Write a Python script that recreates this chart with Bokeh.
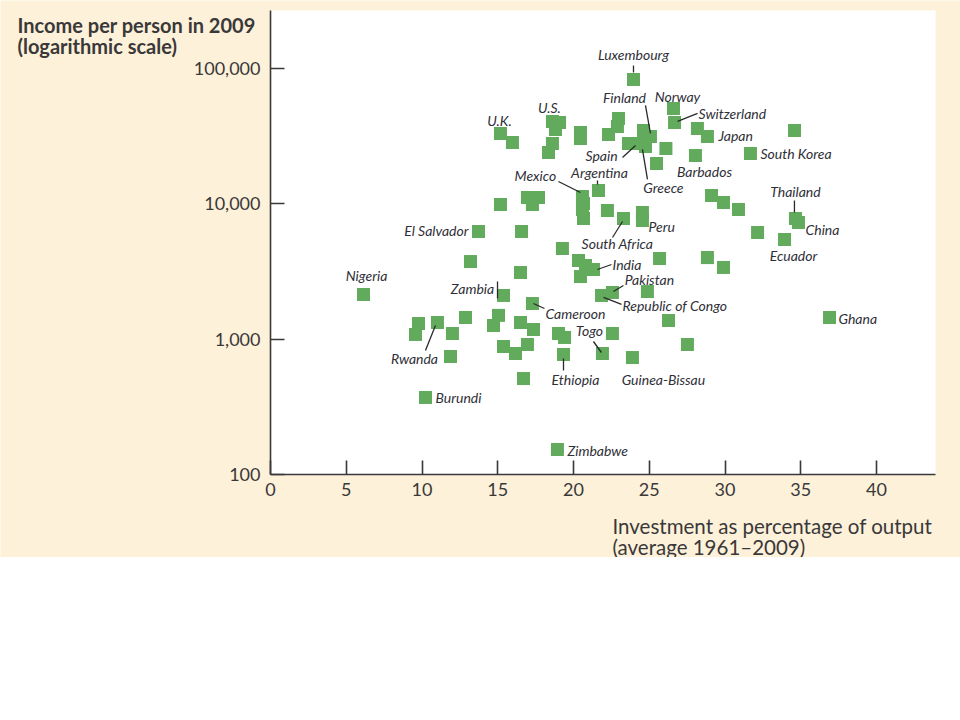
import math
from bokeh.plotting import figure
from bokeh.models import Range1d, FixedTicker, NumeralTickFormatter, Label, BoxAnnotation
from bokeh.embed import file_html
from bokeh.resources import INLINE

# ---------------- data ----------------
names = [
    "Luxembourg", "Norway", "Switzerland", "", "Japan", "", "", "Barbados", "South Korea", "",
    "", "", "", "Thailand", "China", "", "Ecuador", "", "", "Ghana",
    "", "", "", "", "Guinea-Bissau", "", "Togo", "Ethiopia", "", "",
    "Zimbabwe", "", "", "", "", "", "", "", "", "",
    "", "", "Rwanda", "", "", "Burundi", "Nigeria", "Zambia", "Cameroon", "",
    "", "", "", "", "India", "", "Pakistan", "Republic of Congo", "El Salvador", "",
    "", "", "", "", "Mexico", "", "", "Argentina", "", "",
    "South Africa", "", "Peru", "U.K.", "", "U.S.", "", "", "", "",
    "", "", "", "", "", "Finland", "", "Spain", "", "Greece",
]
investment = [
    23.96, 26.60, 26.67, 28.18, 28.84, 26.10, 25.48, 28.05, 31.68, 34.59,
    29.11, 29.90, 30.89, 34.65, 34.85, 32.15, 33.93, 28.84, 29.90, 36.90,
    25.68, 24.88, 26.27, 27.52, 23.89, 22.57, 21.91, 19.34, 19.01, 19.41,
    18.94, 16.70, 15.38, 16.17, 16.96, 17.36, 16.50, 15.05, 14.72, 12.87,
    12.01, 11.88, 11.02, 9.77, 9.57, 10.23, 6.14, 15.38, 17.29, 13.20,
    16.50, 19.27, 20.33, 20.79, 21.32, 20.46, 22.57, 21.85, 13.73, 16.57,
    15.18, 16.96, 17.69, 17.29, 20.59, 20.66, 20.59, 21.65, 22.24, 20.66,
    23.30, 24.55, 24.55, 15.18, 15.97, 18.61, 19.08, 18.81, 18.61, 18.35,
    20.46, 20.46, 22.97, 22.90, 22.31, 25.08, 24.62, 23.63, 24.29, 24.75,
]
income = [
    83000, 50700, 40000, 36100, 31500, 25660, 19900, 22800, 23590, 34900,
    11540, 10240, 9100, 7800, 7290, 6150, 5460, 4010, 3390, 1447,
    3950, 2250, 1375, 914, 732, 1102, 784, 771, 1102, 1030,
    153, 512, 883, 784, 914, 1180, 1329, 1500, 1262, 1447,
    1102, 745, 1329, 1306, 1084, 371, 2140, 2105, 1835, 3750,
    3110, 4680, 3815, 3505, 3275, 2905, 2215, 2105, 6250, 6250,
    9900, 11150, 11150, 9900, 11350, 10070, 9100, 12560, 8940, 7800,
    7800, 8640, 7540, 33150, 28400, 40600, 40000, 35500, 27940, 23990,
    33700, 30450, 42800, 37400, 32600, 31500, 34900, 27940, 27940, 26570,
]
x_ticks = [0, 5, 10, 15, 20, 25, 30, 35, 40]
y_ticks = [100, 1000, 10000, 100000]
y_title = ["Income per person in 2009", "(logarithmic scale)"]
x_title = ["Investment as percentage of output", "(average 1961\u20132009)"]

# ---------------- label placement (pixels: dx, dy-down, align) ----------------
label_style = {
    "Luxembourg": (0, -25, "center"), "Norway": (4, -12, "center"),
    "Finland": (-26, -39, "center"), "Switzerland": (24, -9, "left"),
    "Japan": (11, -1, "left"), "South Korea": (10, 0, "left"),
    "Barbados": (9, 16, "center"), "Greece": (18, 41, "center"),
    "Spain": (-27, 12, "center"), "Mexico": (-47, -21, "center"),
    "Argentina": (1, -18, "center"), "U.K.": (-1, -13, "center"),
    "U.S.": (-3, -14, "center"), "Thailand": (0, -27, "center"),
    "China": (7, 7, "left"), "Ecuador": (9, 16, "center"),
    "Peru": (6, 6, "left"), "South Africa": (-6, 25, "center"),
    "India": (19, -5, "left"), "Pakistan": (37, -13, "center"),
    "Republic of Congo": (21, 10, "left"), "Cameroon": (13, 10, "left"),
    "Zambia": (-31, -7, "center"), "Nigeria": (3, -19, "center"),
    "Rwanda": (-23, 36, "center"), "Togo": (-13, -23, "center"),
    "Ethiopia": (12, 25, "center"), "Guinea-Bissau": (31, 22, "center"),
    "Burundi": (10, 0, "left"), "Zimbabwe": (10, 1, "left"),
    "Ghana": (9, 1, "left"), "El Salvador": (-10, -1, "right"),
}
leader_style = {
    "Luxembourg": (0, -14, 0, -7), "Finland": (-5, -31, 0, -3),
    "Switzerland": (23, -9, 3, -1), "Greece": (-3, 3, 2, 33),
    "Spain": (-6, 14, 7, 2), "Mexico": (-24, -15, -2, -4),
    "Argentina": (-1, -10, -1, -6), "Thailand": (-1, -18, -1, -6),
    "South Africa": (-11, 19, -1, 3), "India": (4, 0, 18, -5),
    "Pakistan": (11, -7, 1, -1), "Republic of Congo": (2, 2, 20, 9),
    "Cameroon": (1, 0, 12, 5), "Zambia": (-6, -14, -6, 3),
    "Rwanda": (-12, 28, -2, 3), "Togo": (-9, -12, -1, -1),
    "Ethiopia": (0, 4, 0, 16),
}

# ---------------- geometry (canvas pixels) ----------------
W, H = 960, 557
AX_LEFT, AX_RIGHT, AX_TOP, AX_BOTTOM = 270, 935, 10, 474   # white plotting area
PX_PER_UNIT = 15.15
PX_PER_DECADE = 135.3
X_MIN = 0.0
Y_MIN = 100.0


def px2x(px):
    return X_MIN + (px - AX_LEFT) / PX_PER_UNIT


def py2y(py):
    return 10 ** (math.log10(Y_MIN) + (AX_BOTTOM - py) / PX_PER_DECADE)


def shift(xv, yv, dx, dy):
    return xv + dx / PX_PER_UNIT, yv * 10 ** (-dy / PX_PER_DECADE)


CREAM = "#fdf1da"
INK = "#3a3838"
GREEN = "#62ab5c"
FONT = "Lato"

p = figure(
    width=W, height=H,
    x_range=Range1d(px2x(0), px2x(W)), y_range=Range1d(py2y(H), py2y(0)),
    y_axis_type="log",
    output_backend="svg", toolbar_location=None,
    min_border=0,
)
p.title.visible = False
p.background_fill_color = CREAM
p.border_fill_color = CREAM
p.outline_line_color = None
p.xgrid.visible = False
p.ygrid.visible = False

# white plotting area
p.add_layout(BoxAnnotation(left=px2x(AX_LEFT), right=px2x(AX_RIGHT),
                           bottom=py2y(AX_BOTTOM), top=py2y(AX_TOP),
                           fill_color="white", fill_alpha=1.0, line_color=None,
                           level="underlay"))

xa = p.xaxis[0]
ya = p.yaxis[0]
xa.fixed_location = Y_MIN
ya.fixed_location = X_MIN
xa.bounds = (px2x(AX_LEFT), px2x(AX_RIGHT))
ya.bounds = (py2y(AX_BOTTOM), py2y(AX_TOP))

for ax in (xa, ya):
    ax.axis_line_color = INK
    ax.axis_line_width = 1.6
    ax.major_tick_line_color = INK
    ax.major_tick_line_width = 1.6
    ax.major_tick_in = 14
    ax.major_tick_out = 0
    ax.minor_tick_in = 0
    ax.minor_tick_out = 0
    ax.major_label_text_font = FONT
    ax.major_label_text_font_size = "18px"
    ax.major_label_text_color = INK

xa.ticker = FixedTicker(ticks=x_ticks, minor_ticks=[])
ya.ticker = FixedTicker(ticks=y_ticks, minor_ticks=[])
ya.formatter = NumeralTickFormatter(format="0,0")
xa.major_label_standoff = 8
ya.major_label_standoff = 10

p.scatter(investment, income, marker="square", size=13,
          fill_color=GREEN, line_color=None)

# leader lines
x0s, y0s, x1s, y1s = [], [], [], []
for name, (a, b, c, d) in leader_style.items():
    i = names.index(name)
    xa0, ya0 = shift(investment[i], income[i], a, b)
    xb0, yb0 = shift(investment[i], income[i], c, d)
    x0s.append(xa0); y0s.append(ya0); x1s.append(xb0); y1s.append(yb0)
p.segment(x0s, y0s, x1s, y1s, line_color="#2a2a2a", line_width=1.3)

# country labels
for name, (dx, dy, align) in label_style.items():
    i = names.index(name)
    p.add_layout(Label(
        x=investment[i], y=income[i], x_offset=dx, y_offset=-dy,
        text=name, text_align=align, text_baseline="middle",
        text_font=FONT, text_font_style="italic", text_font_size="14px",
        text_color="#2f2f38",
    ))

# axis titles
for k, t in enumerate(y_title):
    p.add_layout(Label(
        x=px2x(17), y=py2y(24 + 21 * k), text=t,
        text_align="left", text_baseline="alphabetic",
        text_font=FONT, text_font_style="bold", text_font_size="20px",
        text_color=INK,
    ))
for k, t in enumerate(x_title):
    p.add_layout(Label(
        x=px2x(612), y=py2y(525 + 21 * k), text=t,
        text_align="left", text_baseline="alphabetic",
        text_font=FONT, text_font_size="20.5px", text_color=INK,
    ))

open("out.html", "w").write(file_html(p, INLINE))
